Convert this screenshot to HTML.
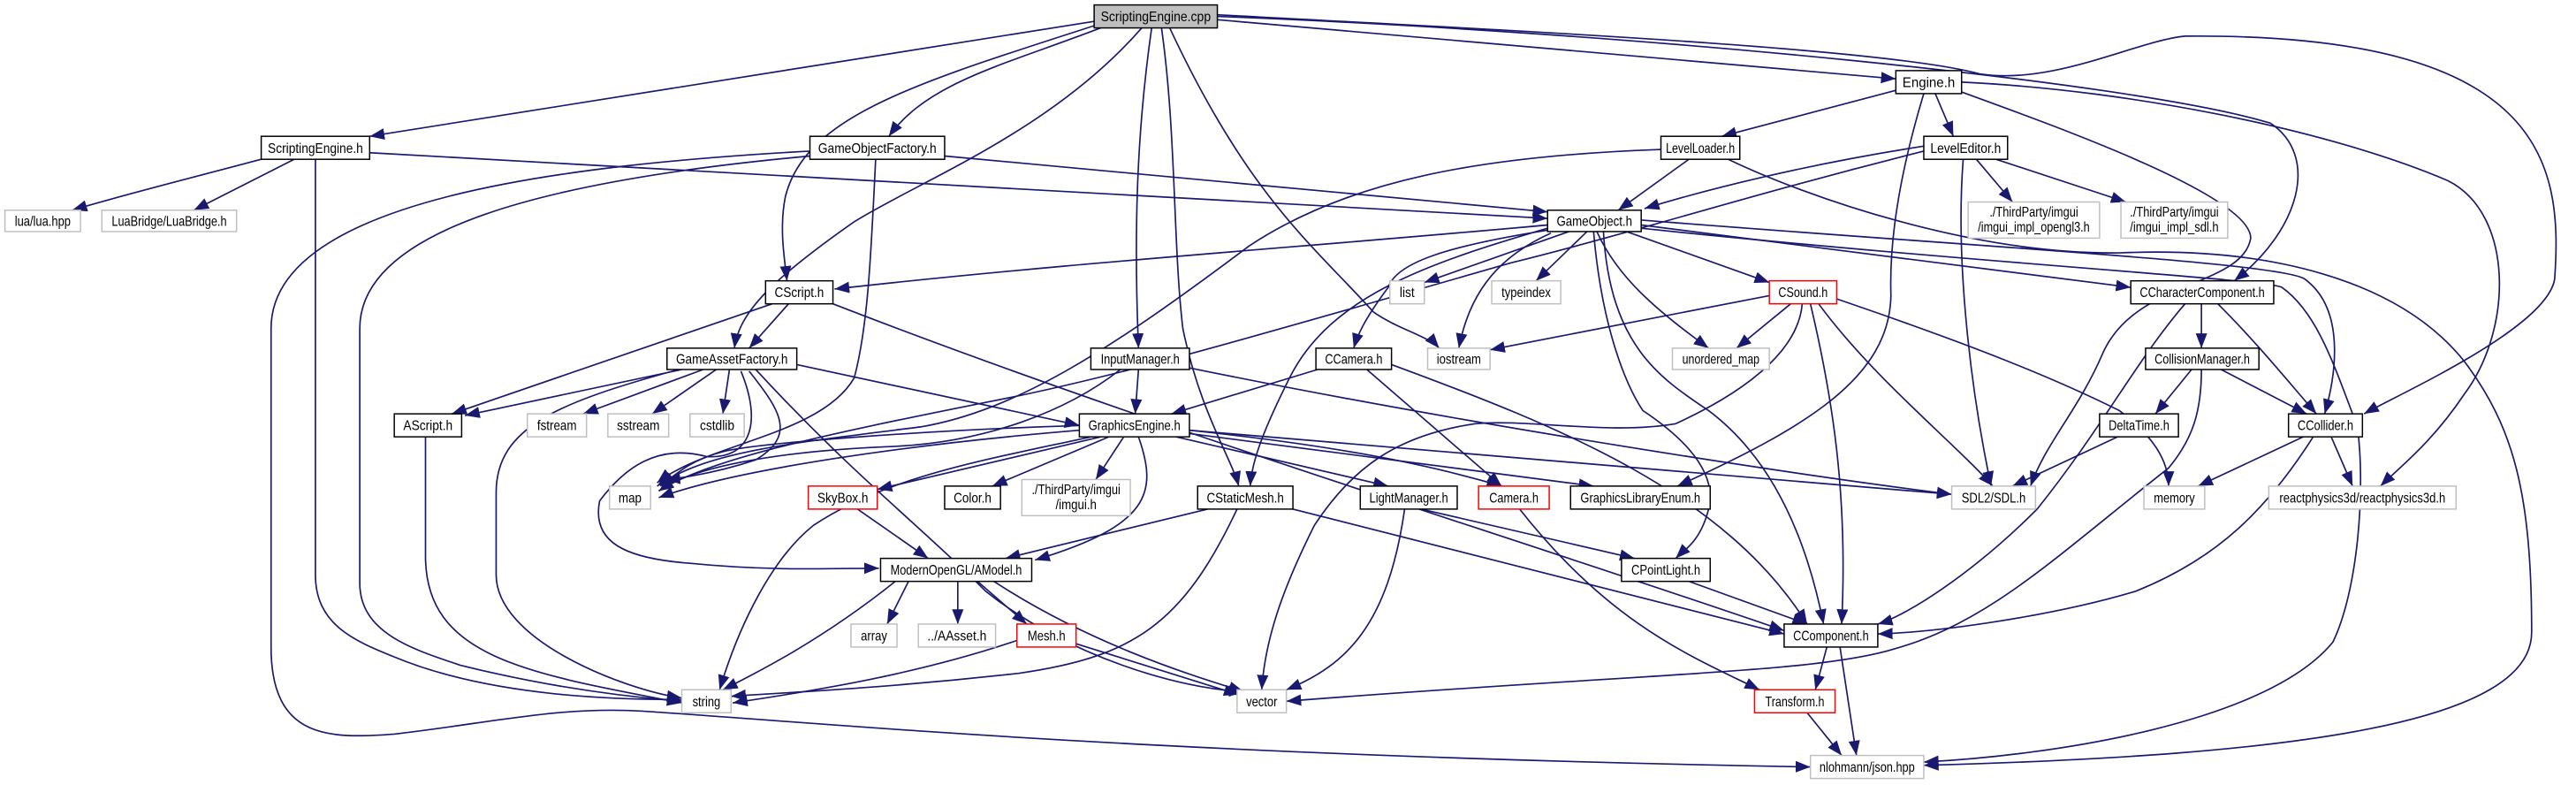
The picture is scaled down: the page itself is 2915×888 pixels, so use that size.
<!DOCTYPE html>
<html><head><meta charset="utf-8"><style>
html,body{margin:0;padding:0;background:#fff;}
svg{display:block;}
text{font-family:"Liberation Sans",Arial,sans-serif;font-size:8.2px;fill:#000;}
.e{fill:none;stroke:#191970;stroke-width:0.9;}
</style></head><body>
<svg width="2915" height="888" viewBox="0 0 1568 478" preserveAspectRatio="none" xmlns="http://www.w3.org/2000/svg">
<defs><marker id="a" markerUnits="userSpaceOnUse" markerWidth="10" markerHeight="8" refX="9" refY="3.5" orient="auto"><path d="M0,0 L9,3.5 L0,7 z" fill="#191970"/></marker></defs>
<rect width="1568" height="478" fill="#fff"/>
<g marker-end="url(#a)">
<path class="e" d="M666,13 L225,83"/>
<path class="e" d="M670,17 C610,40 565,50 541,83"/>
<path class="e" d="M668,15 C560,50 490,70 478,120 C474,140 478,160 479,171"/>
<path class="e" d="M695,17 C640,80 560,110 520,135 C470,170 450,190 447,212"/>
<path class="e" d="M701,17 C692,80 690,140 693,212"/>
<path class="e" d="M707,17 C716,80 714,150 720,200 C730,250 750,280 754,296"/>
<path class="e" d="M712,17 C760,120 800,150 836,190 C850,200 870,205 876,212"/>
<path class="e" d="M741,12 L1154,48"/>
<path class="e" d="M741,10 C1000,20 1300,50 1382,75 C1412,95 1400,140 1360,171"/>
<path class="e" d="M741,9 C950,20 1150,30 1205,45 C1250,52 1300,25 1330,22 C1550,20 1560,100 1555,170 C1550,200 1460,240 1439,252"/>
<path class="e" d="M159,97 C110,110 70,120 44,128"/>
<path class="e" d="M179,97 L118,128"/>
<path class="e" d="M192,97 L192,350 C192,380 215,390 240,400 C300,425 380,426 415,426"/>
<path class="e" d="M225,93 L942,133"/>
<path class="e" d="M575,95 L942,129"/>
<path class="e" d="M493,92 C350,100 165,120 165,200 L165,394 C165,450 200,450 240,447 C300,440 340,430 391,433 C500,440 700,460 1102,467"/>
<path class="e" d="M493,95 C330,110 219,140 219,200 L219,355 C219,385 250,395 280,405 C340,420 390,425 415,427"/>
<path class="e" d="M533,97 C530,160 528,200 520,230 C500,265 430,270 400,294"/>
<path class="e" d="M1028,97 L985,128"/>
<path class="e" d="M1011,91 C900,95 820,110 760,150 C680,210 620,250 560,260 C480,270 430,275 400,296"/>
<path class="e" d="M1052,97 C1100,120 1200,155 1290,154 C1380,150 1460,170 1500,220 C1530,260 1541,300 1541,385 C1541,440 1400,460 1171,466"/>
<path class="e" d="M1154,55 L1048,83"/>
<path class="e" d="M1178,57 L1189,83"/>
<path class="e" d="M1171,57 C1155,110 1150,150 1151,180 C1150,230 1100,260 1021,296"/>
<path class="e" d="M1194,56 C1260,80 1370,120 1370,145 C1365,175 1300,170 1280,215 C1265,250 1245,270 1236,296"/>
<path class="e" d="M1194,50 C1300,55 1420,80 1490,110 C1530,130 1530,200 1500,240 C1480,270 1460,285 1449,296"/>
<path class="e" d="M1171,89 C1100,100 1040,115 1001,127"/>
<path class="e" d="M1171,92 C1060,120 1000,140 920,160 C780,200 680,230 600,245 C500,265 430,280 401,299"/>
<path class="e" d="M1203,97 L1225,123"/>
<path class="e" d="M1215,97 L1294,123"/>
<path class="e" d="M1195,97 C1190,160 1200,240 1212,296"/>
<path class="e" d="M942,137 C800,150 650,160 508,176"/>
<path class="e" d="M955,141 L867,172"/>
<path class="e" d="M966,141 L935,171"/>
<path class="e" d="M944,142 C915,155 895,175 888,212"/>
<path class="e" d="M943,140 C880,150 850,160 845,175 C830,195 826,205 824,212"/>
<path class="e" d="M942,139 C870,160 810,180 785,230 C770,260 762,280 761,296"/>
<path class="e" d="M972,141 C985,170 1010,190 1040,212"/>
<path class="e" d="M990,141 L1077,172"/>
<path class="e" d="M999,137 L1297,175"/>
<path class="e" d="M999,134 C1200,150 1390,160 1403,170 C1430,190 1420,235 1415,252"/>
<path class="e" d="M970,141 C975,200 990,235 1000,250 C1030,270 1045,290 1040,310 C1035,330 1025,335 1020,340"/>
<path class="e" d="M976,141 C980,210 1010,230 1040,250 C1080,280 1100,330 1110,380"/>
<path class="e" d="M999,139 C1200,160 1380,170 1389,175 C1410,190 1420,220 1435,260 C1440,300 1435,360 1420,391 C1380,440 1250,460 1171,464"/>
<path class="e" d="M1077,180 L907,213"/>
<path class="e" d="M1090,185 L1057,212"/>
<path class="e" d="M1097,185 C1095,210 1070,235 1020,258 C980,265 930,255 898,258 C850,265 823,285 800,320 C780,360 770,390 768,420"/>
<path class="e" d="M1107,185 C1140,230 1190,270 1213,296"/>
<path class="e" d="M1102,185 C1115,240 1125,300 1121,380"/>
<path class="e" d="M1118,182 C1200,210 1250,230 1290,250 C1310,265 1320,280 1320,296"/>
<path class="e" d="M1340,185 L1340,212"/>
<path class="e" d="M1330,185 C1300,220 1280,260 1240,310 C1200,350 1160,375 1143,380"/>
<path class="e" d="M1350,185 C1375,210 1395,235 1410,252"/>
<path class="e" d="M1334,225 L1312,252"/>
<path class="e" d="M1352,225 L1404,252"/>
<path class="e" d="M1340,225 C1340,250 1335,267 1320,285 C1250,340 1210,380 1150,396 C1100,410 1000,410 783,427"/>
<path class="e" d="M1289,266 L1225,296"/>
<path class="e" d="M1402,266 L1338,296"/>
<path class="e" d="M1419,266 L1432,296"/>
<path class="e" d="M1408,266 C1380,310 1350,340 1300,360 C1250,375 1180,385 1143,386"/>
<path class="e" d="M693,225 L691,252"/>
<path class="e" d="M682,225 C650,250 600,270 540,272 C470,275 420,285 401,299"/>
<path class="e" d="M724,224 C900,260 1100,290 1188,301"/>
<path class="e" d="M802,225 L713,252"/>
<path class="e" d="M832,225 L914,296"/>
<path class="e" d="M847,222 C950,260 1050,300 1100,380"/>
<path class="e" d="M415,225 L283,253"/>
<path class="e" d="M428,225 L355,252"/>
<path class="e" d="M436,225 L397,252"/>
<path class="e" d="M444,225 L440,252"/>
<path class="e" d="M413,225 C340,245 302,260 302,300 L302,350 C302,390 380,420 415,425"/>
<path class="e" d="M456,226 C475,250 485,265 460,280 C430,290 405,292 405,292"/>
<path class="e" d="M451,226 C465,260 455,280 430,278 C400,270 380,285 365,305 C360,330 380,340 420,343 C470,348 510,346 535,346"/>
<path class="e" d="M485,222 L657,259"/>
<path class="e" d="M460,225 C520,290 560,320 600,360 C650,400 720,420 757,421"/>
<path class="e" d="M259,266 L259,340 C260,400 320,410 415,428"/>
<path class="e" d="M470,185 L275,252"/>
<path class="e" d="M480,185 L456,212"/>
<path class="e" d="M507,185 C700,260 900,320 1086,384"/>
<path class="e" d="M657,262 C560,270 450,285 401,303"/>
<path class="e" d="M660,259 C560,262 460,270 440,275 C420,280 410,290 402,296"/>
<path class="e" d="M670,266 L534,298"/>
<path class="e" d="M675,266 L604,296"/>
<path class="e" d="M684,266 L667,292"/>
<path class="e" d="M693,266 C705,300 700,320 630,341"/>
<path class="e" d="M716,266 L845,296"/>
<path class="e" d="M724,262 C800,270 860,280 914,296"/>
<path class="e" d="M724,264 L970,296"/>
<path class="e" d="M724,262 L1188,301"/>
<path class="e" d="M664,266 C600,280 540,290 495,320 C470,340 450,380 438,420"/>
<path class="e" d="M735,310 L612,340"/>
<path class="e" d="M753,310 C720,380 690,400 620,410 C530,420 470,422 445,424"/>
<path class="e" d="M787,310 L1086,386"/>
<path class="e" d="M865,310 L995,340"/>
<path class="e" d="M855,310 C845,380 820,405 783,420"/>
<path class="e" d="M925,310 C980,380 1030,400 1071,420"/>
<path class="e" d="M1028,354 L1100,380"/>
<path class="e" d="M553,354 L540,380"/>
<path class="e" d="M583,354 L583,380"/>
<path class="e" d="M595,354 L625,380"/>
<path class="e" d="M545,354 C500,390 460,410 440,420"/>
<path class="e" d="M605,354 C660,390 720,410 757,421"/>
<path class="e" d="M619,390 C560,410 500,420 446,428"/>
<path class="e" d="M655,392 L754,423"/>
<path class="e" d="M522,310 L565,340"/>
<path class="e" d="M1112,394 L1105,420"/>
<path class="e" d="M1120,394 L1130,460"/>
<path class="e" d="M1100,434 L1121,460"/>
</g>
<g stroke-width="0.8">
<rect x="666" y="3" width="75" height="14" fill="#bfbfbf" stroke="#000"/><text x="703.5" y="13" text-anchor="middle" textLength="67" lengthAdjust="spacingAndGlyphs">ScriptingEngine.cpp</text>
<rect x="159" y="83" width="66" height="14" fill="#fff" stroke="#000"/><text x="192" y="93" text-anchor="middle" textLength="58" lengthAdjust="spacingAndGlyphs">ScriptingEngine.h</text>
<rect x="3" y="128" width="46" height="13" fill="#fff" stroke="#bfbfbf"/><text x="26" y="137.5" text-anchor="middle" textLength="34" lengthAdjust="spacingAndGlyphs">lua/lua.hpp</text>
<rect x="62" y="128" width="82" height="13" fill="#fff" stroke="#bfbfbf"/><text x="103" y="137.5" text-anchor="middle" textLength="70" lengthAdjust="spacingAndGlyphs">LuaBridge/LuaBridge.h</text>
<rect x="493" y="83" width="82" height="14" fill="#fff" stroke="#000"/><text x="534" y="93" text-anchor="middle" textLength="72" lengthAdjust="spacingAndGlyphs">GameObjectFactory.h</text>
<rect x="1011" y="83" width="48" height="14" fill="#fff" stroke="#000"/><text x="1035" y="93" text-anchor="middle" textLength="42" lengthAdjust="spacingAndGlyphs">LevelLoader.h</text>
<rect x="1154" y="43" width="40" height="14" fill="#fff" stroke="#000"/><text x="1174" y="53" text-anchor="middle" textLength="32" lengthAdjust="spacingAndGlyphs">Engine.h</text>
<rect x="1171" y="83" width="51" height="14" fill="#fff" stroke="#000"/><text x="1196.5" y="93" text-anchor="middle" textLength="43" lengthAdjust="spacingAndGlyphs">LevelEditor.h</text>
<rect x="1198" y="123" width="80" height="22" fill="#fff" stroke="#bfbfbf"/><text x="1238" y="132" text-anchor="middle" textLength="54" lengthAdjust="spacingAndGlyphs">./ThirdParty/imgui</text><text x="1238" y="141" text-anchor="middle" textLength="68" lengthAdjust="spacingAndGlyphs">/imgui_impl_opengl3.h</text>
<rect x="1291" y="123" width="65" height="22" fill="#fff" stroke="#bfbfbf"/><text x="1323.5" y="132" text-anchor="middle" textLength="54" lengthAdjust="spacingAndGlyphs">./ThirdParty/imgui</text><text x="1323.5" y="141" text-anchor="middle" textLength="54" lengthAdjust="spacingAndGlyphs">/imgui_impl_sdl.h</text>
<rect x="942" y="128" width="57" height="13" fill="#fff" stroke="#000"/><text x="970.5" y="137.5" text-anchor="middle" textLength="46" lengthAdjust="spacingAndGlyphs">GameObject.h</text>
<rect x="466" y="171" width="41" height="14" fill="#fff" stroke="#000"/><text x="486.5" y="181" text-anchor="middle" textLength="30" lengthAdjust="spacingAndGlyphs">CScript.h</text>
<rect x="846" y="171" width="21" height="14" fill="#fff" stroke="#bfbfbf"/><text x="856.5" y="181" text-anchor="middle" textLength="9" lengthAdjust="spacingAndGlyphs">list</text>
<rect x="908" y="171" width="42" height="14" fill="#fff" stroke="#bfbfbf"/><text x="929" y="181" text-anchor="middle" textLength="30" lengthAdjust="spacingAndGlyphs">typeindex</text>
<rect x="1077" y="171" width="41" height="14" fill="#fff" stroke="#ff0000"/><text x="1097.5" y="181" text-anchor="middle" textLength="30" lengthAdjust="spacingAndGlyphs">CSound.h</text>
<rect x="1297" y="171" width="87" height="14" fill="#fff" stroke="#000"/><text x="1340.5" y="181" text-anchor="middle" textLength="76" lengthAdjust="spacingAndGlyphs">CCharacterComponent.h</text>
<rect x="406" y="212" width="79" height="13" fill="#fff" stroke="#000"/><text x="445.5" y="221.5" text-anchor="middle" textLength="68" lengthAdjust="spacingAndGlyphs">GameAssetFactory.h</text>
<rect x="664" y="212" width="60" height="13" fill="#fff" stroke="#000"/><text x="694" y="221.5" text-anchor="middle" textLength="48" lengthAdjust="spacingAndGlyphs">InputManager.h</text>
<rect x="801" y="212" width="46" height="13" fill="#fff" stroke="#000"/><text x="824" y="221.5" text-anchor="middle" textLength="35" lengthAdjust="spacingAndGlyphs">CCamera.h</text>
<rect x="869" y="212" width="38" height="13" fill="#fff" stroke="#bfbfbf"/><text x="888" y="221.5" text-anchor="middle" textLength="27" lengthAdjust="spacingAndGlyphs">iostream</text>
<rect x="1018" y="212" width="59" height="13" fill="#fff" stroke="#bfbfbf"/><text x="1047.5" y="221.5" text-anchor="middle" textLength="47" lengthAdjust="spacingAndGlyphs">unordered_map</text>
<rect x="1306" y="212" width="69" height="13" fill="#fff" stroke="#000"/><text x="1340.5" y="221.5" text-anchor="middle" textLength="58" lengthAdjust="spacingAndGlyphs">CollisionManager.h</text>
<rect x="240" y="252" width="41" height="14" fill="#fff" stroke="#000"/><text x="260.5" y="262" text-anchor="middle" textLength="30" lengthAdjust="spacingAndGlyphs">AScript.h</text>
<rect x="321" y="252" width="36" height="14" fill="#fff" stroke="#bfbfbf"/><text x="339" y="262" text-anchor="middle" textLength="24" lengthAdjust="spacingAndGlyphs">fstream</text>
<rect x="370" y="252" width="37" height="14" fill="#fff" stroke="#bfbfbf"/><text x="388.5" y="262" text-anchor="middle" textLength="26" lengthAdjust="spacingAndGlyphs">sstream</text>
<rect x="420" y="252" width="33" height="14" fill="#fff" stroke="#bfbfbf"/><text x="436.5" y="262" text-anchor="middle" textLength="21" lengthAdjust="spacingAndGlyphs">cstdlib</text>
<rect x="657" y="252" width="67" height="14" fill="#fff" stroke="#000"/><text x="690.5" y="262" text-anchor="middle" textLength="56" lengthAdjust="spacingAndGlyphs">GraphicsEngine.h</text>
<rect x="1278" y="252" width="48" height="14" fill="#fff" stroke="#000"/><text x="1302" y="262" text-anchor="middle" textLength="37" lengthAdjust="spacingAndGlyphs">DeltaTime.h</text>
<rect x="1393" y="252" width="45" height="14" fill="#fff" stroke="#000"/><text x="1415.5" y="262" text-anchor="middle" textLength="34" lengthAdjust="spacingAndGlyphs">CCollider.h</text>
<rect x="371" y="296" width="25" height="14" fill="#fff" stroke="#bfbfbf"/><text x="383.5" y="306" text-anchor="middle" textLength="14" lengthAdjust="spacingAndGlyphs">map</text>
<rect x="492" y="296" width="42" height="14" fill="#fff" stroke="#ff0000"/><text x="513" y="306" text-anchor="middle" textLength="31" lengthAdjust="spacingAndGlyphs">SkyBox.h</text>
<rect x="575" y="296" width="34" height="14" fill="#fff" stroke="#000"/><text x="592" y="306" text-anchor="middle" textLength="23" lengthAdjust="spacingAndGlyphs">Color.h</text>
<rect x="622" y="292" width="66" height="22" fill="#fff" stroke="#bfbfbf"/><text x="655" y="301" text-anchor="middle" textLength="54" lengthAdjust="spacingAndGlyphs">./ThirdParty/imgui</text><text x="655" y="310" text-anchor="middle" textLength="25" lengthAdjust="spacingAndGlyphs">/imgui.h</text>
<rect x="729" y="296" width="58" height="14" fill="#fff" stroke="#000"/><text x="758" y="306" text-anchor="middle" textLength="47" lengthAdjust="spacingAndGlyphs">CStaticMesh.h</text>
<rect x="828" y="296" width="59" height="14" fill="#fff" stroke="#000"/><text x="857.5" y="306" text-anchor="middle" textLength="48" lengthAdjust="spacingAndGlyphs">LightManager.h</text>
<rect x="900" y="296" width="43" height="14" fill="#fff" stroke="#ff0000"/><text x="921.5" y="306" text-anchor="middle" textLength="30" lengthAdjust="spacingAndGlyphs">Camera.h</text>
<rect x="956" y="296" width="85" height="14" fill="#fff" stroke="#000"/><text x="998.5" y="306" text-anchor="middle" textLength="73" lengthAdjust="spacingAndGlyphs">GraphicsLibraryEnum.h</text>
<rect x="1188" y="296" width="51" height="14" fill="#fff" stroke="#bfbfbf"/><text x="1213.5" y="306" text-anchor="middle" textLength="39" lengthAdjust="spacingAndGlyphs">SDL2/SDL.h</text>
<rect x="1305" y="296" width="37" height="14" fill="#fff" stroke="#bfbfbf"/><text x="1323.5" y="306" text-anchor="middle" textLength="25" lengthAdjust="spacingAndGlyphs">memory</text>
<rect x="1381" y="296" width="114" height="14" fill="#fff" stroke="#bfbfbf"/><text x="1438" y="306" text-anchor="middle" textLength="101" lengthAdjust="spacingAndGlyphs">reactphysics3d/reactphysics3d.h</text>
<rect x="536" y="340" width="92" height="14" fill="#fff" stroke="#000"/><text x="582" y="350" text-anchor="middle" textLength="80" lengthAdjust="spacingAndGlyphs">ModernOpenGL/AModel.h</text>
<rect x="987" y="340" width="54" height="14" fill="#fff" stroke="#000"/><text x="1014" y="350" text-anchor="middle" textLength="42" lengthAdjust="spacingAndGlyphs">CPointLight.h</text>
<rect x="518" y="380" width="28" height="14" fill="#fff" stroke="#bfbfbf"/><text x="532" y="390" text-anchor="middle" textLength="16" lengthAdjust="spacingAndGlyphs">array</text>
<rect x="559" y="380" width="47" height="14" fill="#fff" stroke="#bfbfbf"/><text x="582.5" y="390" text-anchor="middle" textLength="36" lengthAdjust="spacingAndGlyphs">../AAsset.h</text>
<rect x="619" y="380" width="36" height="14" fill="#fff" stroke="#ff0000"/><text x="637" y="390" text-anchor="middle" textLength="23" lengthAdjust="spacingAndGlyphs">Mesh.h</text>
<rect x="1086" y="380" width="57" height="14" fill="#fff" stroke="#000"/><text x="1114.5" y="390" text-anchor="middle" textLength="46" lengthAdjust="spacingAndGlyphs">CComponent.h</text>
<rect x="415" y="420" width="30" height="14" fill="#fff" stroke="#bfbfbf"/><text x="430" y="430" text-anchor="middle" textLength="17" lengthAdjust="spacingAndGlyphs">string</text>
<rect x="753" y="420" width="30" height="14" fill="#fff" stroke="#bfbfbf"/><text x="768" y="430" text-anchor="middle" textLength="19" lengthAdjust="spacingAndGlyphs">vector</text>
<rect x="1068" y="420" width="49" height="14" fill="#fff" stroke="#ff0000"/><text x="1092.5" y="430" text-anchor="middle" textLength="36" lengthAdjust="spacingAndGlyphs">Transform.h</text>
<rect x="1102" y="460" width="69" height="14" fill="#fff" stroke="#bfbfbf"/><text x="1136.5" y="470" text-anchor="middle" textLength="58" lengthAdjust="spacingAndGlyphs">nlohmann/json.hpp</text>
</g>
</svg>
</body></html>
